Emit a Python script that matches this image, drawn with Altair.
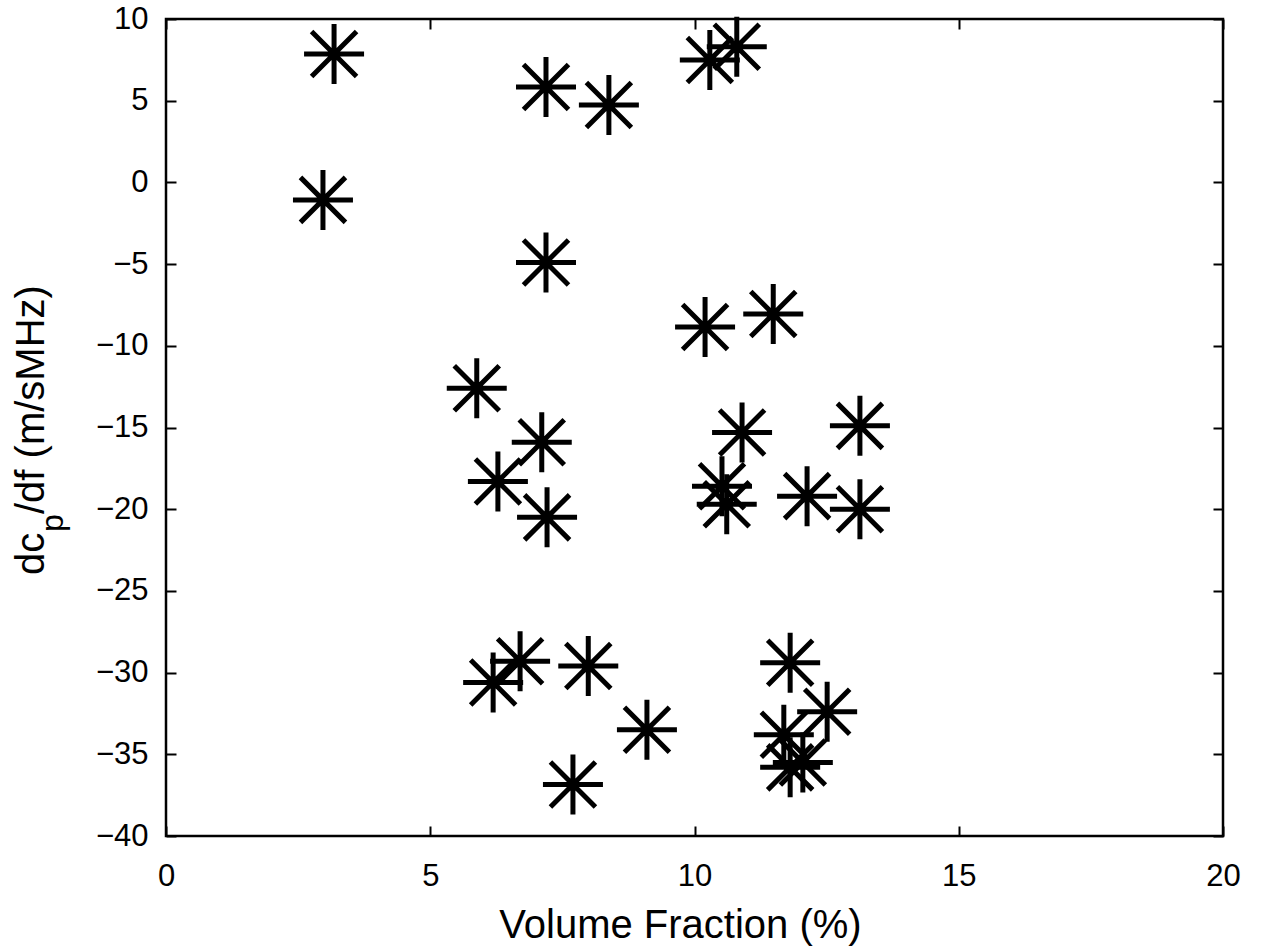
import altair as alt
import pandas as pd

# Data
volume_fraction = [3.18, 2.97, 7.19, 8.38, 10.29, 10.80, 7.19, 10.20, 11.49,
                   5.88, 7.11, 6.28, 7.21, 10.90, 13.13, 10.52, 10.61, 12.13, 13.13,
                   6.19, 6.70, 7.99, 9.10, 7.70, 11.81, 12.51, 11.69, 11.81, 12.05]
dcp_df = [7.86, -1.07, 5.84, 4.74, 7.49, 8.30, -4.90, -8.85, -8.05,
          -12.6, -15.9, -18.3, -20.5, -15.3, -14.9, -18.6, -19.7, -19.2, -20.0,
          -30.6, -29.3, -29.6, -33.5, -36.85, -29.4, -32.4, -33.8, -35.8, -35.5]

x_ticks = [0, 5, 10, 15, 20]
y_ticks = [-40, -35, -30, -25, -20, -15, -10, -5, 0, 5, 10]

df = pd.DataFrame({"vf": volume_fraction, "d": dcp_df})

FONT = "Liberation Sans"
W, H = 1057, 817
ASTERISK = "M-1,0L1,0M0,-1L0,1M-0.75,-0.75L0.75,0.75M-0.75,0.75L0.75,-0.75"

xscale = alt.Scale(domain=[0, 20], nice=False, zero=False)
yscale = alt.Scale(domain=[-40, 10], nice=False, zero=False)

common_axis = dict(offset=-10, tickSize=10, tickWidth=2, tickColor="black",
                   domain=False, grid=False, labelFlush=False, labelOverlap=False)

points = alt.Chart(df).mark_point(
    shape=ASTERISK, filled=False, size=3600, strokeWidth=5,
    color="black", opacity=1
).encode(
    x=alt.X("vf:Q", scale=xscale,
            axis=alt.Axis(orient="bottom", values=x_ticks, labelFontSize=31,
                          labelPadding=25, labelColor="black", labelFont=FONT,
                          title="Volume Fraction (%)", titleFontSize=40,
                          titleFontWeight="normal", titleFont=FONT, titleColor="black",
                          titleBaseline="alphabetic", titleY=111, titleX=514,
                          **common_axis)),
    y=alt.Y("d:Q", scale=yscale,
            axis=alt.Axis(orient="left", values=y_ticks, labelFontSize=31,
                          labelPadding=18, labelColor="black", labelFont=FONT,
                          title=None, **common_axis)),
)

mirror = alt.Chart(df).mark_point(opacity=0).encode(
    x=alt.X("vf:Q", scale=xscale,
            axis=alt.Axis(orient="top", values=x_ticks, labels=False, title=None,
                          **common_axis)),
    y=alt.Y("d:Q", scale=yscale,
            axis=alt.Axis(orient="right", values=y_ticks, labels=False, title=None,
                          **common_axis)),
)

dummy = pd.DataFrame({"k": [0]})
t1 = alt.Chart(dummy).mark_text(text="dc", angle=270, align="left", baseline="alphabetic",
                                fontSize=40, font=FONT, color="black").encode(
    x=alt.value(-122), y=alt.value(556))
t2 = alt.Chart(dummy).mark_text(text="p", angle=270, align="left", baseline="alphabetic",
                                fontSize=32, font=FONT, color="black").encode(
    x=alt.value(-103), y=alt.value(513))
t3 = alt.Chart(dummy).mark_text(text="/df (m/sMHz)", angle=270, align="left",
                                baseline="alphabetic", fontSize=40, font=FONT,
                                color="black").encode(
    x=alt.value(-122), y=alt.value(495))

chart = alt.layer(points, mirror, t1, t2, t3).resolve_axis(
    x="independent", y="independent"
).properties(
    width=W, height=H,
    autosize=alt.AutoSizeParams(type="none"),
    padding={"left": 166, "top": 19, "right": 38, "bottom": 112},
    background="white",
).configure_view(
    stroke="black", strokeWidth=2.5
)

chart.save("out.html", embed_options={"renderer": "svg", "actions": False})
